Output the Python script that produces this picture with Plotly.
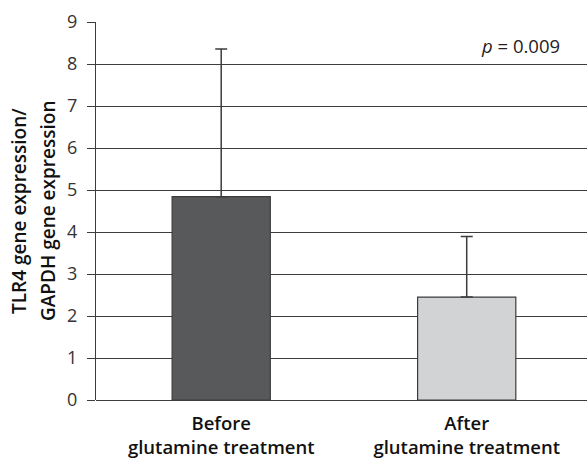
import plotly.graph_objects as go

categories = ["Before<br>glutamine treatment", "After<br>glutamine treatment"]
means = [4.84, 2.45]
sd_upper = [3.52, 1.44]
bar_colors = ["#58595b", "#d1d3d4"]
y_ticks = [0, 1, 2, 3, 4, 5, 6, 7, 8, 9]
y_title_lines = ["TLR4 gene expression/", "GAPDH gene expression"]
p_text = "<i>p</i> = 0.009"

fig = go.Figure()
fig.add_trace(go.Bar(
    x=[0, 1],
    y=means,
    width=0.4,
    marker=dict(color=bar_colors, line=dict(color="#3c3c3c", width=1.2)),
    error_y=dict(type="data", symmetric=False, array=sd_upper, arrayminus=[0, 0],
                 color="#3c3c3c", thickness=1.5, width=6),
    showlegend=False,
))

fig.update_layout(
    width=587, height=461,
    margin=dict(l=96, r=0, t=22, b=61),
    paper_bgcolor="white", plot_bgcolor="white",
    font=dict(family="Open Sans", color="#222"),
    xaxis=dict(
        range=[-0.51, 1.49],
        tickmode="array", tickvals=[0, 1], ticktext=categories,
        tickfont=dict(size=18.5, color="#111", weight=600),
        showgrid=False, zeroline=False, showline=False, ticks="",
        ticklabelstandoff=10,
    ),
    yaxis=dict(
        range=[0, 9],
        tickmode="array", tickvals=y_ticks,
        tickfont=dict(size=18, color="#333"),
        showgrid=True, gridcolor="#3c3c3c", gridwidth=1,
        zeroline=True, zerolinecolor="#3c3c3c", zerolinewidth=1,
        showline=True, linecolor="#3c3c3c", linewidth=1,
        ticks="outside", ticklen=8, tickcolor="#3c3c3c",
        ticklabelstandoff=6,
    ),
    annotations=[
        dict(text=y_title_lines[0],
             xref="paper", yref="paper", x=0, y=0.5, xshift=-77,
             textangle=-90, showarrow=False, xanchor="center", yanchor="middle",
             font=dict(size=19, color="#111", weight=600)),
        dict(text=y_title_lines[1],
             xref="paper", yref="paper", x=0, y=0.5, xshift=-48,
             textangle=-90, showarrow=False, xanchor="center", yanchor="middle",
             font=dict(size=19, color="#111", weight=600)),
        dict(text=p_text, xref="paper", yref="y", x=1, y=8.45, xshift=-25,
             xanchor="right", yanchor="middle", showarrow=False,
             font=dict(size=18.5, color="#222")),
    ],
)

fig.write_html("out.html", config={"displayModeBar": False},
               post_script="document.body.style.margin='0';")
